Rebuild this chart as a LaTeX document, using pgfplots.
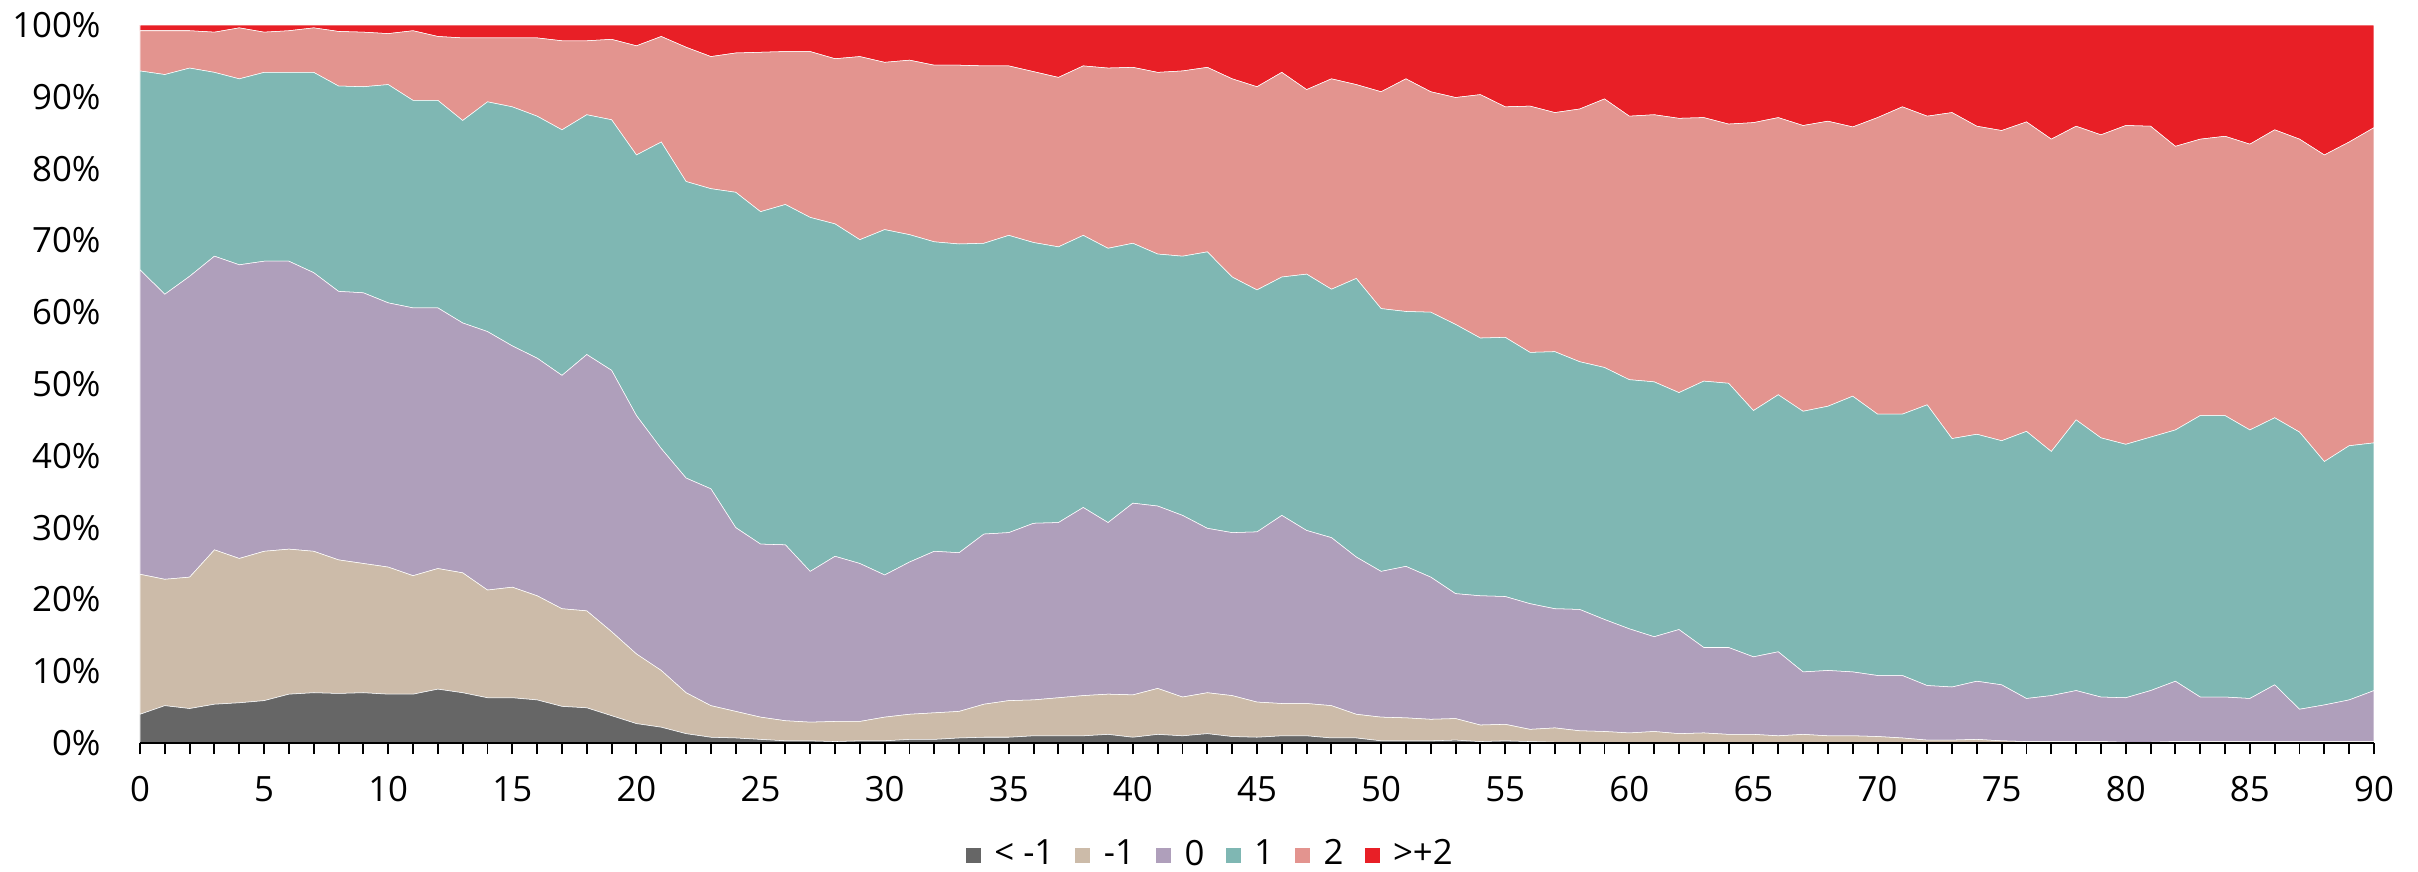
\documentclass[border=0pt]{standalone}
\usepackage{pgfplots}
\usepackage{pgfplotstable}
\pgfplotsset{compat=1.18}
\usepackage{fontspec}
\setmainfont{Open Sans}
\definecolor{cA}{HTML}{666666}
\definecolor{cB}{HTML}{CCBBA9}
\definecolor{cC}{HTML}{AF9FBB}
\definecolor{cD}{HTML}{7FB7B3}
\definecolor{cE}{HTML}{E3948F}
\definecolor{cF}{HTML}{E81F26}
\pgfplotstableread{
u a b c d e f
0 4.0 19.5 42.4 27.7 5.6 0.8
1 5.2 17.6 39.7 30.6 6.1 0.8
2 4.8 18.3 41.9 29.0 5.2 0.8
3 5.4 21.5 40.9 25.6 5.6 1.0
4 5.6 20.1 40.9 25.9 7.1 0.4
5 5.9 20.8 40.4 26.3 5.6 1.0
6 6.8 20.2 40.1 26.3 5.8 0.8
7 7.0 19.7 38.8 27.9 6.2 0.4
8 6.9 18.6 37.4 28.6 7.6 0.9
9 7.0 18.0 37.7 28.7 7.6 1.0
10 6.8 17.7 36.8 30.4 7.1 1.2
11 6.8 16.5 37.3 28.9 9.7 0.8
12 7.5 16.8 36.3 28.9 8.9 1.6
13 7.0 16.7 34.8 28.2 11.5 1.8
14 6.3 15.0 36.0 32.0 8.9 1.8
15 6.3 15.4 33.6 33.3 9.6 1.8
16 6.0 14.5 33.1 33.7 10.9 1.8
17 5.1 13.6 32.5 34.2 12.4 2.2
18 4.9 13.5 35.7 33.4 10.3 2.2
19 3.8 11.7 36.4 34.9 11.2 2.0
20 2.7 9.7 33.2 36.3 15.2 2.9
21 2.2 7.9 30.9 42.7 14.7 1.6
22 1.3 5.7 29.9 41.3 18.7 3.1
23 0.8 4.4 30.2 41.8 18.4 4.4
24 0.7 3.7 25.6 46.7 19.4 3.9
25 0.5 3.1 24.1 46.3 22.2 3.8
26 0.3 2.8 24.5 47.4 21.3 3.7
27 0.3 2.6 21.0 49.3 23.1 3.7
28 0.2 2.8 23.0 46.3 23.0 4.7
29 0.3 2.7 22.0 45.1 25.5 4.4
30 0.3 3.3 19.8 48.1 23.3 5.2
31 0.5 3.5 21.2 45.6 24.3 4.9
32 0.5 3.7 22.5 43.1 24.6 5.6
33 0.7 3.7 22.1 43.0 24.9 5.6
34 0.8 4.6 23.7 40.5 24.7 5.7
35 0.8 5.1 23.4 41.4 23.6 5.7
36 1.0 5.0 24.6 39.1 23.8 6.5
37 1.0 5.3 24.4 38.4 23.6 7.3
38 1.0 5.6 26.2 37.9 23.6 5.7
39 1.2 5.6 23.9 38.2 25.1 6.0
40 0.8 5.9 26.7 36.2 24.5 5.9
41 1.2 6.4 25.4 35.1 25.3 6.6
42 1.0 5.4 25.3 36.1 25.8 6.4
43 1.3 5.7 22.9 38.5 25.7 5.9
44 0.9 5.7 22.7 35.6 27.6 7.5
45 0.8 4.9 23.7 33.7 28.3 8.6
46 1.0 4.5 26.2 33.2 28.5 6.6
47 1.0 4.5 24.1 35.7 25.7 9.0
48 0.7 4.5 23.4 34.6 29.3 7.5
49 0.7 3.3 21.9 38.8 27.0 8.3
50 0.3 3.3 20.3 36.6 30.2 9.3
51 0.3 3.2 21.1 35.5 32.4 7.5
52 0.3 3.0 19.8 36.9 30.7 9.3
53 0.4 3.0 17.4 37.5 31.6 10.1
54 0.2 2.3 18.0 35.9 33.9 9.7
55 0.3 2.3 17.8 36.1 32.1 11.4
56 0.2 1.7 17.5 35.0 34.3 11.3
57 0.1 2.0 16.6 35.8 33.3 12.2
58 0.1 1.6 16.9 34.5 35.2 11.7
59 0.1 1.5 15.6 35.1 37.4 10.3
60 0.1 1.3 14.5 34.7 36.7 12.7
61 0.1 1.5 13.2 35.5 37.2 12.5
62 0.1 1.2 14.5 33.0 38.2 13.0
63 0.1 1.3 11.9 37.1 36.7 12.9
64 0.1 1.1 12.1 36.8 36.1 13.8
65 0.1 1.1 10.8 34.3 40.1 13.6
66 0.1 0.9 11.7 35.8 38.6 12.9
67 0.1 1.1 8.7 36.3 39.8 14.0
68 0.1 0.9 9.1 36.8 39.7 13.4
69 0.1 0.9 8.9 38.4 37.5 14.2
70 0.1 0.8 8.5 36.4 41.3 12.9
71 0.1 0.6 8.7 36.4 42.8 11.4
72 0.1 0.3 7.6 39.1 40.2 12.7
73 0.1 0.3 7.4 34.6 45.4 12.2
74 0.1 0.4 8.1 34.4 42.9 14.1
75 0.1 0.2 7.8 34.0 43.2 14.7
76 0.0 0.2 6.0 37.2 43.1 13.5
77 0.0 0.2 6.4 34.0 43.5 15.9
78 0.0 0.2 7.1 37.7 40.9 14.1
79 0.0 0.2 6.2 36.1 42.2 15.3
80 0.0 0.1 6.2 35.3 44.4 14.0
81 0.0 0.1 7.2 35.3 43.3 14.1
82 0.0 0.2 8.4 35.0 39.5 16.9
83 0.0 0.2 6.2 39.2 38.5 15.9
84 0.0 0.2 6.2 39.2 38.9 15.5
85 0.0 0.2 6.0 37.4 39.8 16.6
86 0.0 0.2 7.9 37.2 40.1 14.6
87 0.0 0.2 4.5 38.6 40.8 15.9
88 0.0 0.2 5.1 33.9 42.7 18.1
89 0.0 0.2 5.8 35.4 42.3 16.3
90 0.0 0.2 7.1 34.5 43.9 14.3
}\data
\begin{document}
\begin{tikzpicture}
\begin{axis}[
  at={(0,0)}, anchor=south west,
  scale only axis, width=223.4mm, height=71.8mm,
  xmin=0, xmax=90, ymin=0, ymax=100,
  stack plots=y,
  axis on top,
  axis x line=bottom, axis y line=left,
  axis line style={-},
  x axis line style={black, line width=0.6pt},
  y axis line style={draw=none},
  tick align=outside,
  font=\fontsize{9.9}{12}\selectfont,
  xtick={0,5,...,90},
  xticklabels={0,5,10,15,20,25,30,35,40,45,50,55,60,65,70,75,80,85,90},
  minor xtick={0,1,...,90},
  major tick length=1.1mm, minor tick length=1.1mm,
  xtick style={black, line width=0.55pt},
  minor x tick style={black, line width=0.55pt},
  ytick={0,10,...,100},
  yticklabels={0\%,10\%,20\%,30\%,40\%,50\%,60\%,70\%,80\%,90\%,100\%},
  ytick style={draw=none},
  yticklabel style={xshift=-1.6mm},
  xticklabel style={yshift=-1.0mm},
  legend columns=6,
  legend style={draw=none, fill=none, at={(0.48,-0.156)}, anchor=center,
    font=\fontsize{9.9}{12}\selectfont,
    /tikz/every odd column/.append style={column sep=0.6mm},
    /tikz/every even column/.append style={column sep=1.3mm}},
  legend image code/.code={\fill[#1] (0mm,-0.8mm) rectangle (1.6mm,0.8mm);},
]
\addplot[fill=cA, draw=white, line width=0.15pt] table[x=u, y=a] {\data} \closedcycle;
\addlegendentry{< -1}
\addplot[fill=cB, draw=white, line width=0.15pt] table[x=u, y=b] {\data} \closedcycle;
\addlegendentry{-1}
\addplot[fill=cC, draw=white, line width=0.15pt] table[x=u, y=c] {\data} \closedcycle;
\addlegendentry{0}
\addplot[fill=cD, draw=white, line width=0.15pt] table[x=u, y=d] {\data} \closedcycle;
\addlegendentry{1}
\addplot[fill=cE, draw=white, line width=0.15pt] table[x=u, y=e] {\data} \closedcycle;
\addlegendentry{2}
\addplot[fill=cF, draw=white, line width=0.15pt] table[x=u, y=f] {\data} \closedcycle;
\addlegendentry{>+2}
\end{axis}
\pgfresetboundingbox
\path[use as bounding box] (-14mm,-12.8mm) rectangle (227.8mm,74.3mm);
\end{tikzpicture}
\end{document}
